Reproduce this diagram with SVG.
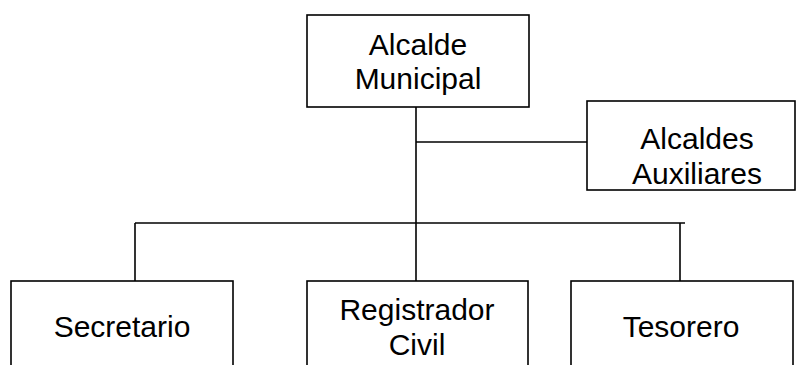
<svg xmlns="http://www.w3.org/2000/svg" width="797" height="365" viewBox="0 0 797 365">
<style>
.box{fill:#fff;stroke:#000;stroke-width:1.6}
.ln{fill:none;stroke:#000;stroke-width:1.6}
text{font-family:"Liberation Sans",Arial,sans-serif;font-size:30px;fill:#000;text-anchor:middle}
</style>
<rect width="797" height="365" fill="#fff"/>
<g id="connectors">
<path class="ln" d="M416 107V281"/>
<path class="ln" d="M416 142H587"/>
<path class="ln" d="M135 223H685"/>
<path class="ln" d="M135 223V293"/>
<path class="ln" d="M680 223V293"/>
</g>
<g id="alcalde">
<rect class="box" x="307" y="15" width="222" height="92"/>
<text x="418" y="55">Alcalde</text>
<text x="418" y="89">Municipal</text>
</g>
<g id="auxiliares">
<rect class="box" x="587" y="101" width="208" height="89"/>
<text x="697" y="149">Alcaldes</text>
<text x="697" y="184">Auxiliares</text>
</g>
<g id="secretario">
<rect class="box" x="11" y="281" width="222" height="100"/>
<text x="122" y="337">Secretario</text>
</g>
<g id="registrador">
<rect class="box" x="307" y="281" width="221" height="100"/>
<text x="417" y="320">Registrador</text>
<text x="417" y="355">Civil</text>
</g>
<g id="tesorero">
<rect class="box" x="571" y="281" width="222" height="100"/>
<text x="681" y="337">Tesorero</text>
</g>
</svg>
